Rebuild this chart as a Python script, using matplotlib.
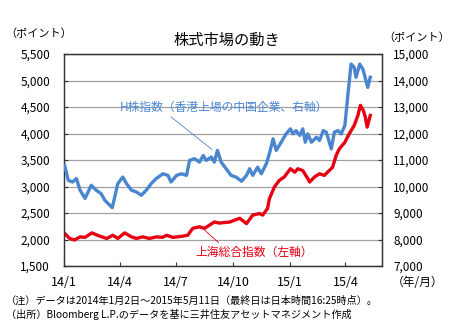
import numpy as np
import matplotlib
matplotlib.use("Agg")
import matplotlib.pyplot as plt
import matplotlib.dates as mdates
from matplotlib.ticker import FuncFormatter

plt.rcParams['font.family'] = ['Noto Sans CJK JP', 'DejaVu Sans']

# H株指数 (right axis)
h_dates = ['2014-01-02', '2014-01-08', '2014-01-15', '2014-01-21', '2014-01-27', '2014-02-04',
           '2014-02-14', '2014-02-22', '2014-03-02', '2014-03-08', '2014-03-16', '2014-03-20',
           '2014-03-29', '2014-04-06', '2014-04-12', '2014-04-20', '2014-04-28', '2014-05-06',
           '2014-05-14', '2014-05-22', '2014-05-30', '2014-06-10', '2014-06-18', '2014-06-23',
           '2014-07-02', '2014-07-10', '2014-07-18', '2014-07-23', '2014-07-31', '2014-08-08',
           '2014-08-14', '2014-08-19', '2014-08-27', '2014-09-01', '2014-09-06', '2014-09-12',
           '2014-09-20', '2014-09-28', '2014-10-06', '2014-10-15', '2014-10-23', '2014-10-28',
           '2014-11-02', '2014-11-10', '2014-11-16', '2014-11-24', '2014-11-29', '2014-12-05',
           '2014-12-10', '2014-12-18', '2014-12-26', '2015-01-02', '2015-01-06', '2015-01-11',
           '2015-01-17', '2015-01-22', '2015-01-26', '2015-01-30', '2015-02-05', '2015-02-13',
           '2015-02-18', '2015-02-24', '2015-03-01', '2015-03-05', '2015-03-09', '2015-03-14',
           '2015-03-20', '2015-03-25', '2015-03-31', '2015-04-05', '2015-04-10', '2015-04-15',
           '2015-04-18', '2015-04-24', '2015-04-29', '2015-05-02', '2015-05-07', '2015-05-11']
h_values = [10800, 10230, 10170, 10300, 9860, 9550,
            10045, 9860, 9730, 9480, 9290, 9200,
            10110, 10357, 10110, 9860, 9795, 9670,
            9860, 10110, 10300, 10480, 10420, 10170,
            10420, 10480, 10420, 10985, 11050, 10920,
            11170, 10985, 11110, 10920, 11360, 10920,
            10670, 10420, 10357, 10200, 10420, 10670,
            10420, 10730, 10480, 10860, 11240, 11800,
            11360, 11670, 11985, 12175, 11985, 12110,
            11925, 12175, 11670, 11985, 11670, 11860,
            11735, 12110, 12050, 11735, 11420, 12050,
            12110, 11985, 12300, 13490, 14620, 14500,
            14120, 14620, 14430, 14180, 13740, 14120]

# 上海総合指数 (left axis)
sh_dates = ['2014-01-02', '2014-01-10', '2014-01-18', '2014-01-27', '2014-02-04', '2014-02-15',
            '2014-02-24', '2014-03-11', '2014-03-21', '2014-03-29', '2014-04-09', '2014-04-20',
            '2014-04-28', '2014-05-08', '2014-05-19', '2014-05-31', '2014-06-09', '2014-06-16',
            '2014-06-26', '2014-07-10', '2014-07-20', '2014-07-28', '2014-08-08', '2014-08-16',
            '2014-09-01', '2014-09-09', '2014-09-26', '2014-10-12', '2014-10-23', '2014-11-02',
            '2014-11-13', '2014-11-18', '2014-11-26', '2014-11-29', '2014-12-07', '2014-12-15',
            '2014-12-23', '2015-01-02', '2015-01-09', '2015-01-14', '2015-01-22', '2015-01-30',
            '2015-02-02', '2015-02-10', '2015-02-18', '2015-02-26', '2015-03-03', '2015-03-11',
            '2015-03-17', '2015-03-22', '2015-03-31', '2015-04-07', '2015-04-15', '2015-04-21',
            '2015-04-25', '2015-04-30', '2015-05-03', '2015-05-06', '2015-05-11']
sh_values = [2115, 2020, 1990, 2050, 2040, 2125,
             2080, 2020, 2080, 2020, 2125, 2050,
             2020, 2050, 2020, 2050, 2040, 2080,
             2040, 2060, 2080, 2210, 2240, 2210,
             2330, 2310, 2330, 2400, 2300, 2460,
             2490, 2460, 2585, 2770, 2990, 3115,
             3180, 3335, 3270, 3335, 3300, 3150,
             3085, 3180, 3240, 3210, 3270, 3360,
             3590, 3710, 3835, 3995, 4150, 4340,
             4530, 4430, 4310, 4120, 4340]

xtick_dates = ['2014-01-01', '2014-04-01', '2014-07-01', '2014-10-01', '2015-01-01', '2015-04-01']
xtick_labels = ['14/1', '14/4', '14/7', '14/10', '15/1', '15/4']

blue = '#4a86d0'
red = '#e60012'

h_x = mdates.date2num(np.array(h_dates, dtype='datetime64[D]'))
sh_x = mdates.date2num(np.array(sh_dates, dtype='datetime64[D]'))
xt = mdates.date2num(np.array(xtick_dates, dtype='datetime64[D]'))

fig = plt.figure(figsize=(4.51, 3.28), dpi=100)
ax = fig.add_axes([64 / 451, 1 - 266 / 328, (382 - 64) / 451, (266 - 54) / 328])
ax2 = ax.twinx()

ax.set_xlim(mdates.date2num(np.datetime64('2014-01-01')), mdates.date2num(np.datetime64('2015-05-30')))
ax.set_ylim(1500, 5500)
ax2.set_ylim(7000, 15000)
ax.set_yticks(np.arange(1500, 5501, 500))
ax2.set_yticks(np.arange(7000, 15001, 1000))
ax.yaxis.grid(True, color='#a0a0a0', linewidth=0.9)
ax.set_axisbelow(True)

comma = FuncFormatter(lambda v, p: '{:,.0f}'.format(v))
ax.yaxis.set_major_formatter(comma)
ax2.yaxis.set_major_formatter(comma)
ax.set_xticks(xt)
ax.set_xticklabels(xtick_labels)

ax.tick_params(axis='x', direction='in', length=3, pad=7, labelsize=9, color='#333333')
ax.tick_params(axis='y', direction='in', length=3, pad=10, labelsize=8.5, color='#333333')
ax2.tick_params(axis='y', direction='in', length=3, pad=8, labelsize=8.5, color='#333333')
for a in (ax, ax2):
    for s in a.spines.values():
        s.set_color('#333333')
        s.set_linewidth(0.9)

ax.plot(sh_x, sh_values, color=red, linewidth=2.4, zorder=3)
ax2.plot(h_x, h_values, color=blue, linewidth=2.4, zorder=3)

ax2.annotate('H株指数（香港上場の中国企業、右軸）',
             xy=(mdates.date2num(np.datetime64('2014-08-28')), 11400),
             xytext=(mdates.date2num(np.datetime64('2014-09-16')), 12980),
             ha='center', va='center', fontsize=8.5, color=blue,
             arrowprops=dict(arrowstyle='-', color=blue, linewidth=0.6, relpos=(0.23, 0.0),
                             shrinkA=0, shrinkB=0))
ax.annotate('上海総合指数（左軸）',
            xy=(mdates.date2num(np.datetime64('2014-08-16')), 2180),
            xytext=(mdates.date2num(np.datetime64('2014-11-05')), 1765),
            ha='center', va='center', fontsize=8.5, color=red,
            arrowprops=dict(arrowstyle='-', color=red, linewidth=0.6, relpos=(0.22, 1.0),
                            shrinkA=0, shrinkB=0))

fig.text(227 / 451, 1 - 40 / 328, '株式市場の動き', ha='center', va='center', fontsize=11)
fig.text(5 / 451, 1 - 34 / 328, '（ポイント）', ha='left', va='center', fontsize=8)
fig.text(383 / 451, 1 - 38 / 328, '（ポイント）', ha='left', va='center', fontsize=8)
fig.text(392 / 451, 1 - 283 / 328, '（年/月）', ha='left', va='center', fontsize=8.5)
fig.text(6 / 451, 1 - 301 / 328,
         '（注）データは2014年1月2日～2015年5月11日（最終日は日本時間16:25時点）。',
         ha='left', va='center', fontsize=7.3)
fig.text(6 / 451, 1 - 315 / 328,
         '（出所）Bloomberg L.P.のデータを基に三井住友アセットマネジメント作成',
         ha='left', va='center', fontsize=7.3)

fig.savefig('out.png', dpi=100)
